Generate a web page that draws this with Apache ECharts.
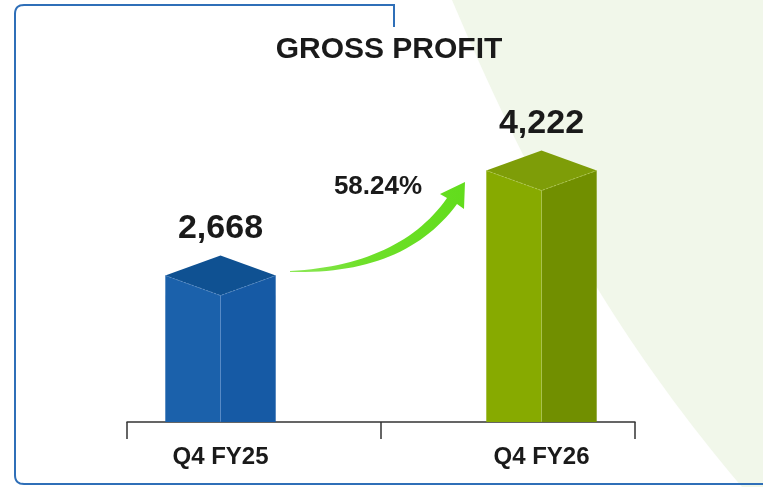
<!DOCTYPE html>
<html>
<head>
<meta charset="utf-8">
<script src="https://cdn.jsdelivr.net/npm/echarts@6/dist/echarts.min.js"></script>
<style>
  html, body { margin: 0; padding: 0; background: #fff; }
  #main { width: 763px; height: 487px; }
</style>
</head>
<body>
<div id="main"></div>
<script>
// data
const categories = ['Q4 FY25', 'Q4 FY26'];
const grossProfit = [2668, 4222];
const valueLabels = ['2,668', '4,222'];
const growthLabel = '58.24%';
const titleText = 'GROSS PROFIT';

// face colours: [left, right, top, edge]
const faceColors = [
  ['#1b61ab', '#165aa5', '#0f5192', '#5b8fcc'],
  ['#87aa00', '#718f00', '#7e9d08', '#b4cc55']
];

const FONT = '"Liberation Sans", Arial, sans-serif';
const Y_MIN = 500;

// sample a quadratic / cubic bezier into points (decoration only)
function quad(p0, p1, p2, n) {
  const pts = [];
  for (let k = 0; k <= n; k++) {
    const t = k / n, u = 1 - t;
    pts.push([u * u * p0[0] + 2 * u * t * p1[0] + t * t * p2[0],
              u * u * p0[1] + 2 * u * t * p1[1] + t * t * p2[1]]);
  }
  return pts;
}
function cubic(p0, p1, p2, p3, n) {
  const pts = [];
  for (let k = 0; k <= n; k++) {
    const t = k / n, u = 1 - t;
    pts.push([u * u * u * p0[0] + 3 * u * u * t * p1[0] + 3 * u * t * t * p2[0] + t * t * t * p3[0],
              u * u * u * p0[1] + 3 * u * u * t * p1[1] + 3 * u * t * t * p2[1] + t * t * t * p3[1]]);
  }
  return pts;
}

const chart = echarts.init(document.getElementById('main'), null, { renderer: 'canvas' });

function renderBox(params, api) {
  const i = params.dataIndex;
  const top = api.coord([api.value(0), api.value(1)]);
  const base = api.coord([api.value(0), Y_MIN]);
  const half = api.size([1, 0])[0] * 0.172;
  const d = 20;
  const cx = top[0], ty = top[1], by = base[1];
  const c = faceColors[i];
  return {
    type: 'group',
    children: [
      { type: 'polygon', shape: { points: [[cx - half, ty], [cx, ty + d], [cx, by], [cx - half, by]] }, style: { fill: c[0] } },
      { type: 'polygon', shape: { points: [[cx, ty + d], [cx + half, ty], [cx + half, by], [cx, by]] }, style: { fill: c[1] } },
      { type: 'polygon', shape: { points: [[cx - half, ty], [cx, ty - d], [cx + half, ty], [cx, ty + d]] }, style: { fill: c[2] } },
      { type: 'polyline', shape: { points: [[cx - half, ty], [cx, ty + d], [cx + half, ty]] }, style: { stroke: c[3], lineWidth: 0.8, lineDash: [2, 2], fill: null } },
      { type: 'line', shape: { x1: cx, y1: ty + d, x2: cx, y2: by }, style: { stroke: c[3], lineWidth: 0.8, opacity: 0.7 } },
      {
        type: 'text',
        style: {
          text: valueLabels[i], x: cx, y: ty - 47,
          align: 'center', verticalAlign: 'middle',
          fontFamily: FONT, fontWeight: 'bold', fontSize: 34, fill: '#1a1a1a'
        }
      }
    ]
  };
}

// backdrop, frame, arrow outlines
const backdropPts = [[452, 0], [763, 0], [763, 487]].concat(cubic([742, 487], [600, 320], [520, 160], [452, 0], 40));
const framePts = [[394, 27], [394, 5]]
  .concat(quad([24, 5], [15, 5], [15, 14], 8))
  .concat(quad([15, 475], [15, 484], [24, 484], 8))
  .concat([[763, 484]]);
const arrowPts = quad([290, 271], [400, 265], [447, 198], 30)
  .concat([[440, 194], [465, 182], [464, 209]])
  .concat(quad([457, 204], [405, 275], [290, 272], 30));

const option = {
  backgroundColor: '#ffffff',
  animation: false,
  graphic: [
    { type: 'polygon', z: -10, shape: { points: backdropPts }, style: { fill: '#f1f7ea' } },
    { type: 'polyline', z: -5, shape: { points: framePts }, style: { stroke: '#2f6fb8', lineWidth: 2, fill: null } },
    {
      type: 'text', x: 389, y: 50,
      style: {
        text: titleText, x: 0, y: 0,
        align: 'center', verticalAlign: 'middle',
        fontFamily: FONT, fontWeight: 'bold', fontSize: 30, fill: '#1a1a1a'
      }
    },
    {
      type: 'polygon',
      shape: { points: arrowPts },
      style: {
        fill: {
          type: 'linear', x: 0, y: 0, x2: 1, y2: 0,
          colorStops: [
            { offset: 0, color: '#8ee85a' },
            { offset: 0.4, color: '#6fe02a' },
            { offset: 1, color: '#62dc1c' }
          ]
        }
      }
    },
    {
      type: 'text', x: 378, y: 187,
      style: {
        text: growthLabel, x: 0, y: 0,
        align: 'center', verticalAlign: 'middle',
        fontFamily: FONT, fontWeight: 'bold', fontSize: 26, fill: '#1a1a1a'
      }
    }
  ],
  grid: [
    { left: 127, right: 128, top: 118, bottom: 65 },
    { left: 60, right: 61, top: 118, bottom: 65 }
  ],
  xAxis: [
    {
      type: 'category', gridIndex: 0, data: categories,
      axisLine: { show: true, lineStyle: { color: '#333', width: 1.5 } },
      axisTick: { show: true, length: 17, lineStyle: { color: '#333', width: 1.5 } },
      axisLabel: { show: false }
    },
    {
      type: 'category', gridIndex: 1, data: categories,
      axisLine: { show: false },
      axisTick: { show: false },
      axisLabel: {
        margin: 23, fontFamily: FONT, fontWeight: 'bold', fontSize: 24, color: '#1a1a1a'
      }
    }
  ],
  yAxis: [
    { type: 'value', gridIndex: 0, min: Y_MIN, max: 5000, show: false },
    { type: 'value', gridIndex: 1, min: Y_MIN, max: 5000, show: false }
  ],
  series: [
    {
      type: 'custom',
      xAxisIndex: 1, yAxisIndex: 1,
      renderItem: renderBox,
      data: categories.map((c, i) => [c, grossProfit[i]])
    }
  ]
};

chart.setOption(option);
</script>
</body>
</html>
